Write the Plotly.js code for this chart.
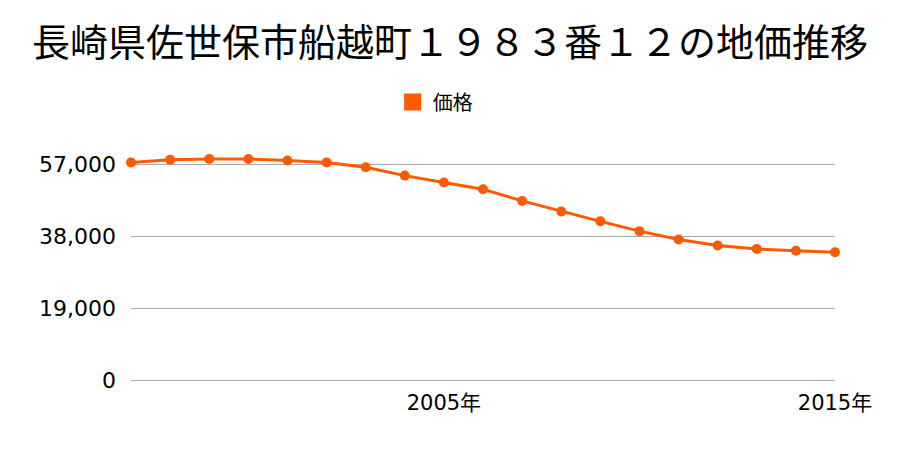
<!DOCTYPE html>
<html>
<head>
<meta charset="utf-8">
<script src="https://cdn.plot.ly/plotly-3.0.1.min.js"></script>
<style>html,body{margin:0;padding:0;background:#fff;}#chart{width:900px;height:450px;}</style>
</head>
<body>
<div id="chart"></div>
<script>
const years = [1997,1998,1999,2000,2001,2002,2003,2004,2005,2006,2007,2008,2009,2010,2011,2012,2013,2014,2015];
const prices = [57600,58300,58500,58500,58100,57600,56300,54100,52300,50500,47400,44600,42000,39400,37200,35600,34700,34200,33800];
const yTicks = [0,19000,38000,57000];
const yTickLabels = ['0','19,000','38,000','57,000'];
const xTicks = [2005,2015];
const xTickLabels = ['2005年','2015年'];
const seriesName = '価格';
const titleText = '長崎県佐世保市船越町１９８３番１２の地価推移';
const color = '#ff5a00';
const cjk = '"Noto Sans CJK JP", "Noto Sans", sans-serif';
const tickFont = '"DejaVu Sans", "Noto Sans CJK JP", sans-serif';

const traces = [
  {x: years, y: prices, type: 'scatter', mode: 'lines+markers', name: seriesName, showlegend: false,
   line: {color: color, width: 3}, marker: {color: color, size: 10}, cliponaxis: false},
  {x: [null], y: [null], type: 'bar', name: seriesName, marker: {color: color, line: {color: color, width: 8}}, showlegend: true}
];
const layout = {
  width: 900, height: 450,
  margin: {l: 131, r: 65, t: 142, b: 70},
  paper_bgcolor: '#fff', plot_bgcolor: '#fff',
  font: {family: cjk, color: '#000', size: 20},
  title: {text: titleText, font: {family: cjk, size: 38, color: '#000'}, x: 0.5, xanchor: 'center', y: 0.905, yanchor: 'middle'},
  showlegend: true,
  legend: {orientation: 'h', x: 0.432, xanchor: 'center', y: 1.168, yanchor: 'middle', font: {family: cjk, size: 20, color: '#000'}},
  xaxis: {range: [1997, 2015], tickvals: xTicks, ticktext: xTickLabels, showgrid: false, zeroline: false, showline: false, ticks: '', fixedrange: true, ticklabelstandoff: 8, tickfont: {family: tickFont, size: 21, color: '#000'}},
  yaxis: {range: [0, 63000], tickvals: yTicks, ticktext: yTickLabels, showgrid: true, gridcolor: '#aaaaaa', gridwidth: 1, zeroline: true, zerolinecolor: '#aaaaaa', zerolinewidth: 1, ticks: '', ticklabelstandoff: 14, tickfont: {family: tickFont, size: 22, color: '#000'}}
};
Plotly.newPlot('chart', traces, layout, {displayModeBar: false, staticPlot: true});
</script>
</body>
</html>
